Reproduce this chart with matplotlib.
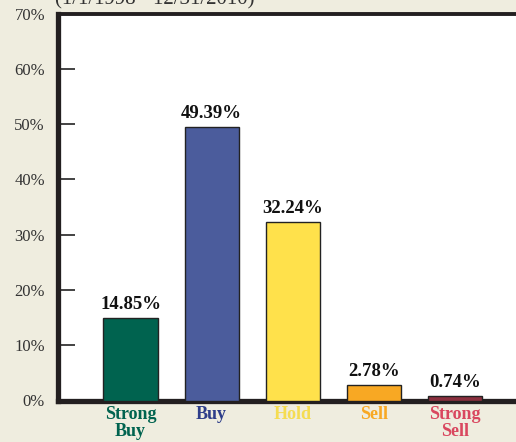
import matplotlib
matplotlib.use("Agg")
import matplotlib.pyplot as plt

categories = ["Strong\nBuy", "Buy", "Hold", "Sell", "Strong\nSell"]
values = [14.85, 49.39, 32.24, 2.78, 0.74]
value_labels = ["14.85%", "49.39%", "32.24%", "2.78%", "0.74%"]
bar_colors = ["#00634F", "#4B5C9C", "#FFE14B", "#F8A823", "#8B2F3E"]
label_colors = ["#00634F", "#2E3E8A", "#F5DC50", "#F8A823", "#D9475F"]
yticks = [0, 10, 20, 30, 40, 50, 60, 70]
ytick_labels = ["0%", "10%", "20%", "30%", "40%", "50%", "60%", "70%"]
subtitle = "(1/1/1998 - 12/31/2010)"

W, H = 516, 442
fig = plt.figure(figsize=(W / 100, H / 100), dpi=100)
fig.patch.set_facecolor("#EFEDDF")
plt.rcParams["font.family"] = ["Liberation Serif", "DejaVu Serif"]

left_px, right_px, top_px, bot_px = 57.5, 528, 13.5, 400.5
ax = fig.add_axes([left_px / W, 1 - bot_px / H, (right_px - left_px) / W, (bot_px - top_px) / H])
ax.set_facecolor("white")

x = list(range(len(values)))
ax.bar(x, values, width=0.667, color=bar_colors, edgecolor="#222222", linewidth=1.0, zorder=3)
ax.set_xlim(-0.9, 4.9)
ax.set_ylim(0, 70)

for xi, v, lab in zip(x, values, value_labels):
    ax.annotate(lab, (xi, v), xytext=(0, 4), textcoords="offset points",
                ha="center", va="bottom", fontsize=13.5, fontweight="bold", color="#111111")

ax.set_yticks(yticks)
ax.set_yticklabels(ytick_labels, fontsize=12, color="#333333")
ax.tick_params(axis="y", direction="in", length=12, width=1.2, color="#222222", pad=9)
ax.set_xticks(x)
ax.set_xticklabels(categories, fontsize=13, fontweight="bold", linespacing=1.0)
for t, c in zip(ax.get_xticklabels(), label_colors):
    t.set_color(c)
ax.tick_params(axis="x", length=0, pad=4)

for s in ["left", "bottom"]:
    ax.spines[s].set_linewidth(3.8)
    ax.spines[s].set_color("#231F20")
ax.spines["top"].set_linewidth(2.8)
ax.spines["top"].set_color("#231F20")
ax.spines["right"].set_visible(False)

fig.text(55 / W, 1 - 4 / H, subtitle, fontsize=15, color="#333333", ha="left", va="baseline")

fig.savefig("out.png", dpi=100, facecolor=fig.get_facecolor())
